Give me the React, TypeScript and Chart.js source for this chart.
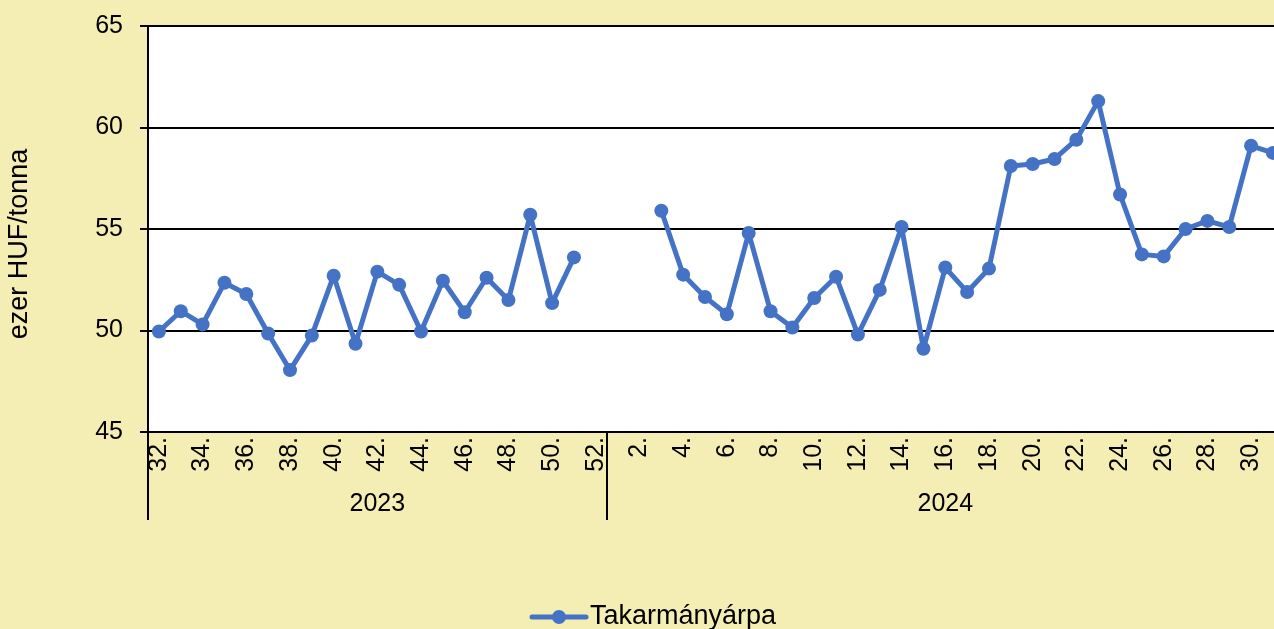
import React, { useEffect, useRef } from "react";
import { Chart, registerables } from "chart.js";

Chart.register(...registerables);

const weeks2023 = ["32.", "33.", "34.", "35.", "36.", "37.", "38.", "39.", "40.", "41.", "42.", "43.", "44.", "45.", "46.", "47.", "48.", "49.", "50.", "51.", "52."];
const weeks2024 = ["1.", "2.", "3.", "4.", "5.", "6.", "7.", "8.", "9.", "10.", "11.", "12.", "13.", "14.", "15.", "16.", "17.", "18.", "19.", "20.", "21.", "22.", "23.", "24.", "25.", "26.", "27.", "28.", "29.", "30.", "31."];
const values2023 = [49.95, 50.95, 50.3, 52.35, 51.8, 49.85, 48.05, 49.75, 52.7, 49.35, 52.9, 52.25, 49.95, 52.45, 50.9, 52.6, 51.5, 55.7, 51.35, 53.6, null];
const values2024 = [null, null, 55.9, 52.75, 51.65, 50.8, 54.8, 50.95, 50.15, 51.6, 52.65, 49.8, 52.0, 55.1, 49.1, 53.1, 51.9, 53.05, 58.1, 58.2, 58.45, 59.4, 61.3, 56.7, 53.75, 53.65, 55.0, 55.4, 55.1, 59.1, 58.75];
const years = ["2023", "2024"];
const seriesName = "Takarmányárpa";
const yTitle = "ezer HUF/tonna";
const yMin = 45;
const yMax = 65;
const yStep = 5;

const FONT = '"Liberation Sans", Arial, sans-serif';
const LINE_COLOR = "#4472C4";
const BG = "#F5EEB4";
const SHIFT = 6; // canvas is moved up by this many px

export default function App() {
  const ref = useRef<HTMLCanvasElement>(null);

  useEffect(() => {
    const labels = [...weeks2023, ...weeks2024];
    const data = [...values2023, ...values2024];
    const groupSizes = [weeks2023.length, weeks2024.length];

    const custom = {
      id: "custom",
      beforeDraw(chart: any) {
        const { ctx, chartArea: a } = chart;
        ctx.save();
        ctx.fillStyle = "#ffffff";
        ctx.fillRect(a.left, a.top, a.right - a.left, a.bottom - a.top);
        ctx.restore();
      },
      afterDraw(chart: any) {
        const { ctx, chartArea: a } = chart;
        const xs = chart.scales.x;
        const step = xs.getPixelForValue(1) - xs.getPixelForValue(0);
        ctx.save();
        ctx.strokeStyle = "#000";
        ctx.lineWidth = 2;
        ctx.fillStyle = "#000";
        ctx.font = `25px ${FONT}`;
        ctx.textAlign = "center";
        ctx.textBaseline = "middle";
        let start = 0;
        groupSizes.forEach((size, gi) => {
          const lx = Math.round(xs.getPixelForValue(start) - step / 2);
          ctx.beginPath();
          ctx.moveTo(lx, a.bottom);
          ctx.lineTo(lx, a.bottom + 88);
          ctx.stroke();
          const cx = (xs.getPixelForValue(start) + xs.getPixelForValue(start + size - 1)) / 2;
          ctx.fillText(years[gi], cx, a.bottom + 72);
          start += size;
        });
        // y title
        ctx.save();
        ctx.translate(20, 244 + SHIFT);
        ctx.rotate(-Math.PI / 2);
        ctx.font = `27px ${FONT}`;
        ctx.fillText(yTitle, 0, 0);
        ctx.restore();
        // legend
        const ly = 617 + SHIFT;
        ctx.strokeStyle = LINE_COLOR;
        ctx.lineWidth = 5;
        ctx.lineCap = "round";
        ctx.beginPath();
        ctx.moveTo(532, ly);
        ctx.lineTo(586, ly);
        ctx.stroke();
        ctx.fillStyle = LINE_COLOR;
        ctx.beginPath();
        ctx.arc(559, ly, 7, 0, Math.PI * 2);
        ctx.fill();
        ctx.fillStyle = "#000";
        ctx.textAlign = "left";
        ctx.textBaseline = "alphabetic";
        ctx.font = `27px ${FONT}`;
        ctx.fillText(chart.data.datasets[0].label, 590, 624 + SHIFT);
        ctx.restore();
      },
    };

    const chart = new Chart(ref.current!, {
      type: "line",
      data: {
        labels,
        datasets: [
          {
            label: seriesName,
            data,
            borderColor: LINE_COLOR,
            backgroundColor: LINE_COLOR,
            borderWidth: 5,
            borderJoinStyle: "round",
            borderCapStyle: "round",
            pointRadius: 7,
            pointBorderWidth: 0,
            pointBackgroundColor: LINE_COLOR,
            spanGaps: false,
            tension: 0,
          },
        ],
      },
      options: {
        responsive: false,
        animation: false,
        layout: { padding: { top: 19, right: 6, bottom: 0, left: 0 } },
        plugins: { legend: { display: false }, tooltip: { enabled: false } },
        scales: {
          x: {
            type: "category",
            offset: true,
            grid: { display: false, drawTicks: false },
            border: { display: false },
            afterFit(scale: any) {
              scale.height = 197;
            },
            ticks: {
              autoSkip: false,
              minRotation: 90,
              maxRotation: 90,
              padding: 5,
              color: "#000",
              font: { family: FONT, size: 25 },
              callback: (_v: any, i: number) => (i % 2 === 0 ? labels[i] : ""),
            },
          },
          y: {
            min: yMin,
            max: yMax,
            afterFit(scale: any) {
              scale.width = 148;
            },
            grid: { color: "#000", lineWidth: 2, drawTicks: true, tickLength: 8 },
            border: { display: true, color: "#000", width: 2 },
            ticks: {
              stepSize: yStep,
              padding: 17,
              color: "#000",
              font: { family: FONT, size: 25 },
            },
          },
        },
      },
      plugins: [custom],
    });
    return () => chart.destroy();
  }, []);

  return (
    <div
      style={{
        position: "fixed",
        left: 0,
        top: 0,
        width: 1274,
        height: 629,
        overflow: "hidden",
        background: BG,
      }}
    >
      <canvas
        ref={ref}
        width={1308}
        height={629 + SHIFT}
        style={{ display: "block", position: "absolute", left: 0, top: -SHIFT }}
      />
    </div>
  );
}
